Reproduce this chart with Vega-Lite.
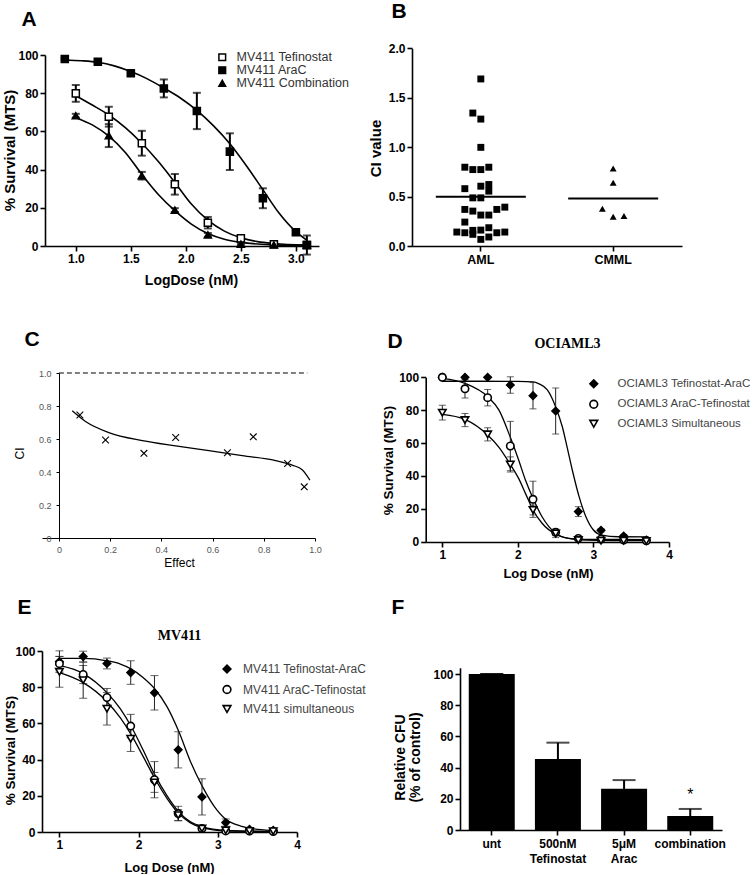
{
  "$schema": "https://vega.github.io/schema/vega-lite/v6.json",
  "background": "white",
  "padding": {"left": 2, "top": 0, "right": 0, "bottom": 0},
  "columns": 2,
  "align": "each",
  "bounds": "flush",
  "spacing": {"column": 93, "row": 109},
  "resolve": {"scale": {"shape": "independent", "fill": "independent", "stroke": "independent"}, "legend": {"shape": "independent", "fill": "independent", "stroke": "independent"}},
  "datasets": {
    "A_fit": [
      {"series": "MV411 AraC", "logdose": 0.9, "pct": 97.4}, {"series": "MV411 AraC", "logdose": 1.05, "pct": 97.0}, {"series": "MV411 AraC", "logdose": 1.2, "pct": 96.2}, {"series": "MV411 AraC", "logdose": 1.35, "pct": 94.3}, {"series": "MV411 AraC", "logdose": 1.5, "pct": 91.3}, {"series": "MV411 AraC", "logdose": 1.65, "pct": 87.5}, {"series": "MV411 AraC", "logdose": 1.8, "pct": 82.7}, {"series": "MV411 AraC", "logdose": 1.95, "pct": 77.5}, {"series": "MV411 AraC", "logdose": 2.1, "pct": 71.0}, {"series": "MV411 AraC", "logdose": 2.25, "pct": 63.0}, {"series": "MV411 AraC", "logdose": 2.4, "pct": 53.5}, {"series": "MV411 AraC", "logdose": 2.55, "pct": 42.0}, {"series": "MV411 AraC", "logdose": 2.7, "pct": 29.5}, {"series": "MV411 AraC", "logdose": 2.85, "pct": 17.0}, {"series": "MV411 AraC", "logdose": 3.0, "pct": 7.5}, {"series": "MV411 AraC", "logdose": 3.1, "pct": 3.0},
      {"series": "MV411 Tefinostat", "logdose": 1.0, "pct": 78.7}, {"series": "MV411 Tefinostat", "logdose": 1.15, "pct": 73.8}, {"series": "MV411 Tefinostat", "logdose": 1.3, "pct": 68.6}, {"series": "MV411 Tefinostat", "logdose": 1.45, "pct": 62.0}, {"series": "MV411 Tefinostat", "logdose": 1.6, "pct": 53.8}, {"series": "MV411 Tefinostat", "logdose": 1.75, "pct": 44.2}, {"series": "MV411 Tefinostat", "logdose": 1.9, "pct": 33.3}, {"series": "MV411 Tefinostat", "logdose": 2.05, "pct": 22.0}, {"series": "MV411 Tefinostat", "logdose": 2.2, "pct": 13.5}, {"series": "MV411 Tefinostat", "logdose": 2.35, "pct": 7.8}, {"series": "MV411 Tefinostat", "logdose": 2.5, "pct": 4.3}, {"series": "MV411 Tefinostat", "logdose": 2.65, "pct": 2.3}, {"series": "MV411 Tefinostat", "logdose": 2.8, "pct": 1.3}, {"series": "MV411 Tefinostat", "logdose": 3.1, "pct": 0.5},
      {"series": "MV411 Combination", "logdose": 1.0, "pct": 67.2}, {"series": "MV411 Combination", "logdose": 1.15, "pct": 63.4}, {"series": "MV411 Combination", "logdose": 1.3, "pct": 57.5}, {"series": "MV411 Combination", "logdose": 1.45, "pct": 49.0}, {"series": "MV411 Combination", "logdose": 1.6, "pct": 37.5}, {"series": "MV411 Combination", "logdose": 1.75, "pct": 27.0}, {"series": "MV411 Combination", "logdose": 1.9, "pct": 18.5}, {"series": "MV411 Combination", "logdose": 2.05, "pct": 11.5}, {"series": "MV411 Combination", "logdose": 2.2, "pct": 6.5}, {"series": "MV411 Combination", "logdose": 2.35, "pct": 3.5}, {"series": "MV411 Combination", "logdose": 2.5, "pct": 1.9}, {"series": "MV411 Combination", "logdose": 2.8, "pct": 0.6}, {"series": "MV411 Combination", "logdose": 3.1, "pct": 0.2}
    ],
    "A_pts": [
      {"series": "MV411 Tefinostat", "logdose": 1.0, "pct": 79.9, "err": 4.4}, {"series": "MV411 Tefinostat", "logdose": 1.3, "pct": 67.7, "err": 5.2}, {"series": "MV411 Tefinostat", "logdose": 1.6, "pct": 53.8, "err": 6.5}, {"series": "MV411 Tefinostat", "logdose": 1.9, "pct": 32.3, "err": 5.4}, {"series": "MV411 Tefinostat", "logdose": 2.2, "pct": 12.2, "err": 3.0}, {"series": "MV411 Tefinostat", "logdose": 2.5, "pct": 4.0, "err": 1.0}, {"series": "MV411 Tefinostat", "logdose": 2.8, "pct": 0.9, "err": 0.5}, {"series": "MV411 Tefinostat", "logdose": 3.1, "pct": 0.5, "err": 0.5},
      {"series": "MV411 AraC", "logdose": 0.9, "pct": 97.9, "err": 0.5}, {"series": "MV411 AraC", "logdose": 1.2, "pct": 96.5, "err": 0.5}, {"series": "MV411 AraC", "logdose": 1.5, "pct": 90.4, "err": 1.0}, {"series": "MV411 AraC", "logdose": 1.8, "pct": 82.5, "err": 4.7}, {"series": "MV411 AraC", "logdose": 2.1, "pct": 70.7, "err": 9.5}, {"series": "MV411 AraC", "logdose": 2.4, "pct": 49.4, "err": 9.6}, {"series": "MV411 AraC", "logdose": 2.7, "pct": 25.0, "err": 5.2}, {"series": "MV411 AraC", "logdose": 3.0, "pct": 7.2, "err": 1.0}, {"series": "MV411 AraC", "logdose": 3.1, "pct": 0.5, "err": 5.0},
      {"series": "MV411 Combination", "logdose": 1.0, "pct": 68.2, "err": 1.0}, {"series": "MV411 Combination", "logdose": 1.3, "pct": 57.8, "err": 6.0}, {"series": "MV411 Combination", "logdose": 1.6, "pct": 36.8, "err": 2.0}, {"series": "MV411 Combination", "logdose": 1.9, "pct": 18.8, "err": 1.0}, {"series": "MV411 Combination", "logdose": 2.2, "pct": 5.8, "err": 1.0}, {"series": "MV411 Combination", "logdose": 2.5, "pct": 1.0, "err": 0.5}, {"series": "MV411 Combination", "logdose": 2.8, "pct": 0.5, "err": 0.3}, {"series": "MV411 Combination", "logdose": 3.1, "pct": 0.3, "err": 0.3}
    ],
    "B": [
      {"group": "AML", "ci": 1.69, "col": 0}, {"group": "AML", "ci": 1.345, "col": -1}, {"group": "AML", "ci": 1.284, "col": 0}, {"group": "AML", "ci": 0.998, "col": 0},
      {"group": "AML", "ci": 0.797, "col": -2}, {"group": "AML", "ci": 0.773, "col": -1}, {"group": "AML", "ci": 0.773, "col": 0}, {"group": "AML", "ci": 0.797, "col": 1},
      {"group": "AML", "ci": 0.58, "col": -2}, {"group": "AML", "ci": 0.605, "col": 0}, {"group": "AML", "ci": 0.622, "col": 1}, {"group": "AML", "ci": 0.555, "col": 1},
      {"group": "AML", "ci": 0.487, "col": -1}, {"group": "AML", "ci": 0.487, "col": 0},
      {"group": "AML", "ci": 0.37, "col": -2}, {"group": "AML", "ci": 0.353, "col": -1}, {"group": "AML", "ci": 0.313, "col": 0}, {"group": "AML", "ci": 0.313, "col": 1}, {"group": "AML", "ci": 0.37, "col": 2}, {"group": "AML", "ci": 0.393, "col": 3},
      {"group": "AML", "ci": 0.242, "col": -2},
      {"group": "AML", "ci": 0.141, "col": -3}, {"group": "AML", "ci": 0.134, "col": -2}, {"group": "AML", "ci": 0.158, "col": -1}, {"group": "AML", "ci": 0.161, "col": 0}, {"group": "AML", "ci": 0.185, "col": 1}, {"group": "AML", "ci": 0.134, "col": 2}, {"group": "AML", "ci": 0.141, "col": 3},
      {"group": "AML", "ci": 0.118, "col": -1}, {"group": "AML", "ci": 0.067, "col": 0}, {"group": "AML", "ci": 0.091, "col": 1},
      {"group": "CMML", "ci": 0.785, "col": 0}, {"group": "CMML", "ci": 0.639, "col": 0}, {"group": "CMML", "ci": 0.377, "col": -1.35}, {"group": "CMML", "ci": 0.296, "col": 0}, {"group": "CMML", "ci": 0.303, "col": 1.35}
    ],
    "C_ref": [{"effect": 0, "effect_end": 0.97, "ci": 1.0}],
    "C_curve": [
      {"effect": 0.052, "ci": 0.771}, {"effect": 0.104, "ci": 0.706}, {"effect": 0.195, "ci": 0.639}, {"effect": 0.326, "ci": 0.59}, {"effect": 0.456, "ci": 0.558}, {"effect": 0.586, "ci": 0.529}, {"effect": 0.716, "ci": 0.499}, {"effect": 0.846, "ci": 0.469}, {"effect": 0.911, "ci": 0.442}, {"effect": 0.951, "ci": 0.412}, {"effect": 0.98, "ci": 0.351}
    ],
    "C_pts": [
      {"effect": 0.082, "ci": 0.746}, {"effect": 0.182, "ci": 0.594}, {"effect": 0.332, "ci": 0.513}, {"effect": 0.456, "ci": 0.609}, {"effect": 0.658, "ci": 0.517}, {"effect": 0.759, "ci": 0.613}, {"effect": 0.893, "ci": 0.452}, {"effect": 0.958, "ci": 0.31}
    ],
    "D_fit": [
      {"series": "OCIAML3 Tefinostat-AraC", "logdose": 1.0, "pct": 97.6}, {"series": "OCIAML3 Tefinostat-AraC", "logdose": 1.5, "pct": 97.6}, {"series": "OCIAML3 Tefinostat-AraC", "logdose": 2.0, "pct": 97.5}, {"series": "OCIAML3 Tefinostat-AraC", "logdose": 2.2, "pct": 97.2}, {"series": "OCIAML3 Tefinostat-AraC", "logdose": 2.28, "pct": 96.0}, {"series": "OCIAML3 Tefinostat-AraC", "logdose": 2.39, "pct": 92.3}, {"series": "OCIAML3 Tefinostat-AraC", "logdose": 2.5, "pct": 82.0}, {"series": "OCIAML3 Tefinostat-AraC", "logdose": 2.59, "pct": 69.6}, {"series": "OCIAML3 Tefinostat-AraC", "logdose": 2.65, "pct": 57.8}, {"series": "OCIAML3 Tefinostat-AraC", "logdose": 2.72, "pct": 43.6}, {"series": "OCIAML3 Tefinostat-AraC", "logdose": 2.81, "pct": 27.4}, {"series": "OCIAML3 Tefinostat-AraC", "logdose": 2.9, "pct": 15.2}, {"series": "OCIAML3 Tefinostat-AraC", "logdose": 3.0, "pct": 7.1}, {"series": "OCIAML3 Tefinostat-AraC", "logdose": 3.11, "pct": 4.0}, {"series": "OCIAML3 Tefinostat-AraC", "logdose": 3.33, "pct": 3.0}, {"series": "OCIAML3 Tefinostat-AraC", "logdose": 3.73, "pct": 2.9},
      {"series": "OCIAML3 AraC-Tefinostat", "logdose": 1.0, "pct": 99.4}, {"series": "OCIAML3 AraC-Tefinostat", "logdose": 1.3, "pct": 96.3}, {"series": "OCIAML3 AraC-Tefinostat", "logdose": 1.6, "pct": 88.2}, {"series": "OCIAML3 AraC-Tefinostat", "logdose": 1.75, "pct": 80.0}, {"series": "OCIAML3 AraC-Tefinostat", "logdose": 1.9, "pct": 63.5}, {"series": "OCIAML3 AraC-Tefinostat", "logdose": 2.01, "pct": 49.7}, {"series": "OCIAML3 AraC-Tefinostat", "logdose": 2.1, "pct": 37.5}, {"series": "OCIAML3 AraC-Tefinostat", "logdose": 2.2, "pct": 26.4}, {"series": "OCIAML3 AraC-Tefinostat", "logdose": 2.32, "pct": 15.2}, {"series": "OCIAML3 AraC-Tefinostat", "logdose": 2.5, "pct": 5.1}, {"series": "OCIAML3 AraC-Tefinostat", "logdose": 2.67, "pct": 2.0}, {"series": "OCIAML3 AraC-Tefinostat", "logdose": 2.9, "pct": 1.4}, {"series": "OCIAML3 AraC-Tefinostat", "logdose": 3.73, "pct": 1.3},
      {"series": "OCIAML3 Simultaneous", "logdose": 1.0, "pct": 77.5}, {"series": "OCIAML3 Simultaneous", "logdose": 1.3, "pct": 74.4}, {"series": "OCIAML3 Simultaneous", "logdose": 1.6, "pct": 64.9}, {"series": "OCIAML3 Simultaneous", "logdose": 1.75, "pct": 57.4}, {"series": "OCIAML3 Simultaneous", "logdose": 1.9, "pct": 47.0}, {"series": "OCIAML3 Simultaneous", "logdose": 2.01, "pct": 38.5}, {"series": "OCIAML3 Simultaneous", "logdose": 2.1, "pct": 29.4}, {"series": "OCIAML3 Simultaneous", "logdose": 2.2, "pct": 19.3}, {"series": "OCIAML3 Simultaneous", "logdose": 2.32, "pct": 11.2}, {"series": "OCIAML3 Simultaneous", "logdose": 2.5, "pct": 4.5}, {"series": "OCIAML3 Simultaneous", "logdose": 2.67, "pct": 2.0}, {"series": "OCIAML3 Simultaneous", "logdose": 2.9, "pct": 1.0}, {"series": "OCIAML3 Simultaneous", "logdose": 3.73, "pct": 0.6}
    ],
    "D_pts": [
      {"series": "OCIAML3 Tefinostat-AraC", "logdose": 1.0, "pct": 100, "err": 0}, {"series": "OCIAML3 Tefinostat-AraC", "logdose": 1.3, "pct": 100, "err": 0}, {"series": "OCIAML3 Tefinostat-AraC", "logdose": 1.6, "pct": 100, "err": 0}, {"series": "OCIAML3 Tefinostat-AraC", "logdose": 1.9, "pct": 95.3, "err": 5}, {"series": "OCIAML3 Tefinostat-AraC", "logdose": 2.2, "pct": 88.8, "err": 8}, {"series": "OCIAML3 Tefinostat-AraC", "logdose": 2.5, "pct": 79.5, "err": 14}, {"series": "OCIAML3 Tefinostat-AraC", "logdose": 2.8, "pct": 18.3, "err": 3}, {"series": "OCIAML3 Tefinostat-AraC", "logdose": 3.1, "pct": 6.9, "err": 1}, {"series": "OCIAML3 Tefinostat-AraC", "logdose": 3.4, "pct": 3.4, "err": 1}, {"series": "OCIAML3 Tefinostat-AraC", "logdose": 3.7, "pct": 1.0, "err": 0.5},
      {"series": "OCIAML3 AraC-Tefinostat", "logdose": 1.0, "pct": 100, "err": 0}, {"series": "OCIAML3 AraC-Tefinostat", "logdose": 1.3, "pct": 93, "err": 5.6}, {"series": "OCIAML3 AraC-Tefinostat", "logdose": 1.6, "pct": 87.6, "err": 5}, {"series": "OCIAML3 AraC-Tefinostat", "logdose": 1.9, "pct": 58.2, "err": 15}, {"series": "OCIAML3 AraC-Tefinostat", "logdose": 2.2, "pct": 25.8, "err": 11}, {"series": "OCIAML3 AraC-Tefinostat", "logdose": 2.5, "pct": 5.7, "err": 2}, {"series": "OCIAML3 AraC-Tefinostat", "logdose": 2.8, "pct": 2.0, "err": 0.5}, {"series": "OCIAML3 AraC-Tefinostat", "logdose": 3.1, "pct": 1.6, "err": 0.5}, {"series": "OCIAML3 AraC-Tefinostat", "logdose": 3.4, "pct": 1.0, "err": 0.5}, {"series": "OCIAML3 AraC-Tefinostat", "logdose": 3.7, "pct": 0.6, "err": 0.3},
      {"series": "OCIAML3 Simultaneous", "logdose": 1.0, "pct": 78.5, "err": 4.5}, {"series": "OCIAML3 Simultaneous", "logdose": 1.3, "pct": 74, "err": 4}, {"series": "OCIAML3 Simultaneous", "logdose": 1.6, "pct": 65.3, "err": 4}, {"series": "OCIAML3 Simultaneous", "logdose": 1.9, "pct": 47, "err": 4.6}, {"series": "OCIAML3 Simultaneous", "logdose": 2.2, "pct": 19.3, "err": 3}, {"series": "OCIAML3 Simultaneous", "logdose": 2.5, "pct": 5.0, "err": 2.5}, {"series": "OCIAML3 Simultaneous", "logdose": 2.8, "pct": 1.0, "err": 0.5}, {"series": "OCIAML3 Simultaneous", "logdose": 3.1, "pct": 0.6, "err": 0.3}, {"series": "OCIAML3 Simultaneous", "logdose": 3.4, "pct": 0.6, "err": 0.3}, {"series": "OCIAML3 Simultaneous", "logdose": 3.7, "pct": 0.4, "err": 0.3}
    ],
    "E_fit": [
      {"series": "MV411 Tefinostat-AraC", "logdose": 1.0, "pct": 95.9}, {"series": "MV411 Tefinostat-AraC", "logdose": 1.3, "pct": 95.9}, {"series": "MV411 Tefinostat-AraC", "logdose": 1.6, "pct": 94.6}, {"series": "MV411 Tefinostat-AraC", "logdose": 1.77, "pct": 92.8}, {"series": "MV411 Tefinostat-AraC", "logdose": 1.91, "pct": 90.0}, {"series": "MV411 Tefinostat-AraC", "logdose": 2.06, "pct": 85.2}, {"series": "MV411 Tefinostat-AraC", "logdose": 2.2, "pct": 79.3}, {"series": "MV411 Tefinostat-AraC", "logdose": 2.36, "pct": 69.1}, {"series": "MV411 Tefinostat-AraC", "logdose": 2.51, "pct": 55.2}, {"series": "MV411 Tefinostat-AraC", "logdose": 2.65, "pct": 39.4}, {"series": "MV411 Tefinostat-AraC", "logdose": 2.8, "pct": 25.6}, {"series": "MV411 Tefinostat-AraC", "logdose": 2.95, "pct": 14.4}, {"series": "MV411 Tefinostat-AraC", "logdose": 3.1, "pct": 7.0}, {"series": "MV411 Tefinostat-AraC", "logdose": 3.29, "pct": 3.3}, {"series": "MV411 Tefinostat-AraC", "logdose": 3.5, "pct": 1.5}, {"series": "MV411 Tefinostat-AraC", "logdose": 3.75, "pct": 0.9},
      {"series": "MV411 AraC-Tefinostat", "logdose": 1.0, "pct": 92.0}, {"series": "MV411 AraC-Tefinostat", "logdose": 1.3, "pct": 87.5}, {"series": "MV411 AraC-Tefinostat", "logdose": 1.6, "pct": 77.0}, {"series": "MV411 AraC-Tefinostat", "logdose": 1.77, "pct": 68.0}, {"series": "MV411 AraC-Tefinostat", "logdose": 1.91, "pct": 58.0}, {"series": "MV411 AraC-Tefinostat", "logdose": 2.06, "pct": 45.0}, {"series": "MV411 AraC-Tefinostat", "logdose": 2.2, "pct": 32.0}, {"series": "MV411 AraC-Tefinostat", "logdose": 2.36, "pct": 20.0}, {"series": "MV411 AraC-Tefinostat", "logdose": 2.51, "pct": 11.0}, {"series": "MV411 AraC-Tefinostat", "logdose": 2.65, "pct": 5.8}, {"series": "MV411 AraC-Tefinostat", "logdose": 2.8, "pct": 3.0}, {"series": "MV411 AraC-Tefinostat", "logdose": 3.1, "pct": 0.9}, {"series": "MV411 AraC-Tefinostat", "logdose": 3.75, "pct": 0.3},
      {"series": "MV411 simultaneous", "logdose": 1.0, "pct": 88.0}, {"series": "MV411 simultaneous", "logdose": 1.3, "pct": 82.5}, {"series": "MV411 simultaneous", "logdose": 1.6, "pct": 72.0}, {"series": "MV411 simultaneous", "logdose": 1.77, "pct": 63.0}, {"series": "MV411 simultaneous", "logdose": 1.91, "pct": 53.5}, {"series": "MV411 simultaneous", "logdose": 2.06, "pct": 41.5}, {"series": "MV411 simultaneous", "logdose": 2.2, "pct": 30.0}, {"series": "MV411 simultaneous", "logdose": 2.36, "pct": 18.5}, {"series": "MV411 simultaneous", "logdose": 2.51, "pct": 10.0}, {"series": "MV411 simultaneous", "logdose": 2.65, "pct": 5.2}, {"series": "MV411 simultaneous", "logdose": 2.8, "pct": 2.4}, {"series": "MV411 simultaneous", "logdose": 3.1, "pct": 0.6}, {"series": "MV411 simultaneous", "logdose": 3.75, "pct": 0.2}
    ],
    "E_pts": [
      {"series": "MV411 Tefinostat-AraC", "logdose": 1.0, "pct": 94.1, "err": 6}, {"series": "MV411 Tefinostat-AraC", "logdose": 1.3, "pct": 96.9, "err": 3}, {"series": "MV411 Tefinostat-AraC", "logdose": 1.6, "pct": 93.1, "err": 3}, {"series": "MV411 Tefinostat-AraC", "logdose": 1.9, "pct": 88.1, "err": 6.5}, {"series": "MV411 Tefinostat-AraC", "logdose": 2.2, "pct": 76.9, "err": 9.5}, {"series": "MV411 Tefinostat-AraC", "logdose": 2.5, "pct": 45.4, "err": 10}, {"series": "MV411 Tefinostat-AraC", "logdose": 2.8, "pct": 19.4, "err": 10}, {"series": "MV411 Tefinostat-AraC", "logdose": 3.1, "pct": 5.2, "err": 2}, {"series": "MV411 Tefinostat-AraC", "logdose": 3.4, "pct": 1.5, "err": 1}, {"series": "MV411 Tefinostat-AraC", "logdose": 3.7, "pct": 0.9, "err": 0.5},
      {"series": "MV411 AraC-Tefinostat", "logdose": 1.0, "pct": 93, "err": 4}, {"series": "MV411 AraC-Tefinostat", "logdose": 1.3, "pct": 87, "err": 5}, {"series": "MV411 AraC-Tefinostat", "logdose": 1.6, "pct": 74.3, "err": 5}, {"series": "MV411 AraC-Tefinostat", "logdose": 1.9, "pct": 58.5, "err": 6.5}, {"series": "MV411 AraC-Tefinostat", "logdose": 2.2, "pct": 28.9, "err": 10}, {"series": "MV411 AraC-Tefinostat", "logdose": 2.5, "pct": 10.2, "err": 4}, {"series": "MV411 AraC-Tefinostat", "logdose": 2.8, "pct": 1.9, "err": 1}, {"series": "MV411 AraC-Tefinostat", "logdose": 3.1, "pct": 0.6, "err": 0.5}, {"series": "MV411 AraC-Tefinostat", "logdose": 3.4, "pct": 0.5, "err": 0.3}, {"series": "MV411 AraC-Tefinostat", "logdose": 3.7, "pct": 0.3, "err": 0.3},
      {"series": "MV411 simultaneous", "logdose": 1.0, "pct": 88.5, "err": 8.5}, {"series": "MV411 simultaneous", "logdose": 1.3, "pct": 83.9, "err": 10}, {"series": "MV411 simultaneous", "logdose": 1.6, "pct": 68.1, "err": 9}, {"series": "MV411 simultaneous", "logdose": 1.9, "pct": 51.5, "err": 7}, {"series": "MV411 simultaneous", "logdose": 2.2, "pct": 27.4, "err": 5.5}, {"series": "MV411 simultaneous", "logdose": 2.5, "pct": 9.3, "err": 3}, {"series": "MV411 simultaneous", "logdose": 2.8, "pct": 1.9, "err": 1}, {"series": "MV411 simultaneous", "logdose": 3.1, "pct": 0.9, "err": 0.5}, {"series": "MV411 simultaneous", "logdose": 3.4, "pct": 0.6, "err": 0.3}, {"series": "MV411 simultaneous", "logdose": 3.7, "pct": 0.4, "err": 0.3}
    ],
    "F": [
      {"treatment": "unt", "cfu": 100, "err": 0, "sig": ""},
      {"treatment": "500nM Tefinostat", "cfu": 45.5, "err": 10.5, "sig": ""},
      {"treatment": "5μM Arac", "cfu": 26.5, "err": 5.5, "sig": ""},
      {"treatment": "combination", "cfu": 9, "err": 4.5, "sig": "*"}
    ]
  },
  "concat": [
    {
      "width": 277, "height": 216,
      "encoding": {
        "y": {"field": "pct", "type": "quantitative",
          "scale": {"domain": [0, 100], "range": [198, 7], "nice": false, "zero": false},
          "axis": {"values": [0, 20, 40, 60, 80, 100], "offset": -3, "title": "% Survival (MTS)", "titleFontSize": 15, "titleAngle": 270, "titleX": -36, "titleY": 102, "titleAlign": "center", "titleBaseline": "middle"}}
      },
      "layer": [
        {"data": {"name": "A_fit"},
          "mark": {"type": "line", "interpolate": "monotone", "color": "black", "strokeWidth": 1.6},
          "encoding": {
            "x": {"field": "logdose", "type": "quantitative", "scale": {"domain": [0.72, 3.21], "range": [3, 277], "nice": false, "zero": false},
              "axis": {"values": [1, 1.5, 2, 2.5, 3], "format": ".1f", "offset": -18, "title": "LogDose (nM)", "titleX": 149, "titleY": 34, "titleAlign": "center", "titleBaseline": "middle"}},
            "detail": {"field": "series", "type": "nominal"}}},
        {"data": {"name": "A_pts"},
          "mark": {"type": "errorbar", "ticks": true, "size": 8, "thickness": 2, "color": "black"},
          "encoding": {
            "x": {"field": "logdose", "type": "quantitative", "scale": {"domain": [0.72, 3.21], "range": [3, 277], "nice": false, "zero": false}, "axis": null},
            "yError": {"field": "err"}}},
        {"data": {"name": "A_pts"},
          "mark": {"type": "point", "filled": false, "strokeWidth": 1.5, "size": 50, "opacity": 1},
          "encoding": {
            "x": {"field": "logdose", "type": "quantitative", "scale": {"domain": [0.72, 3.21], "range": [3, 277], "nice": false, "zero": false},
              "axis": {"orient": "top", "domain": false, "ticks": false, "labels": false, "title": "A", "titleX": -21, "titleY": -23, "titleAngle": 0, "titleAlign": "left", "titleBaseline": "alphabetic", "titleFontSize": 21}},
            "shape": {"field": "series", "type": "nominal", "scale": {"domain": ["MV411 Tefinostat", "MV411 AraC", "MV411 Combination"], "range": ["square", "square", "triangle-up"]},
              "legend": {"orient": "none", "legendX": 174, "legendY": 3, "title": null, "padding": 0, "rowPadding": -1.5, "labelOffset": 8, "labelFontSize": 12.5, "labelFontWeight": "normal", "labelColor": "#333", "symbolStrokeWidth": 1.5, "symbolSize": 45}},
            "fill": {"field": "series", "type": "nominal", "scale": {"domain": ["MV411 Tefinostat", "MV411 AraC", "MV411 Combination"], "range": ["white", "black", "black"]},
              "legend": {"orient": "none", "legendX": 174, "legendY": 3, "title": null, "padding": 0, "rowPadding": -1.5, "labelOffset": 8, "labelFontSize": 12.5, "labelFontWeight": "normal", "labelColor": "#333", "symbolStrokeWidth": 1.5, "symbolSize": 45}},
            "stroke": {"field": "series", "type": "nominal", "scale": {"domain": ["MV411 Tefinostat", "MV411 AraC", "MV411 Combination"], "range": ["black", "black", "black"]},
              "legend": {"orient": "none", "legendX": 174, "legendY": 3, "title": null, "padding": 0, "rowPadding": -1.5, "labelOffset": 8, "labelFontSize": 12.5, "labelFontWeight": "normal", "labelColor": "#333", "symbolStrokeWidth": 1.5, "symbolSize": 45}}}}
      ],
      "resolve": {"axis": {"x": "independent"}}
    },
    {
      "width": 270, "height": 216,
      "data": {"name": "B"},
      "layer": [
        {"mark": {"type": "point", "filled": true, "color": "black", "size": 48, "opacity": 1},
          "encoding": {
            "x": {"field": "group", "type": "nominal", "sort": ["AML", "CMML"], "scale": {"type": "band", "paddingInner": 0, "paddingOuter": 0.02},
              "axis": {"offset": -18, "title": null, "labelAngle": 0, "labelFontSize": 12.5}},
            "xOffset": {"field": "col", "type": "quantitative", "scale": {"domain": [-8.275, 8.275], "nice": false, "zero": false}},
            "y": {"field": "ci", "type": "quantitative", "scale": {"domain": [0, 2], "range": [198, 0.3], "nice": false},
              "axis": {"values": [0, 0.5, 1, 1.5, 2], "format": ".1f", "title": "CI value", "titleFontSize": 15, "titleAngle": 270, "titleX": -37, "titleY": 100, "titleAlign": "center", "titleBaseline": "middle"}},
            "shape": {"field": "group", "type": "nominal", "scale": {"domain": ["AML", "CMML"], "range": ["square", "triangle-up"]}, "legend": null}}},
        {"mark": {"type": "tick", "size": 90, "thickness": 2, "color": "black"},
          "encoding": {
            "x": {"field": "group", "type": "nominal", "sort": ["AML", "CMML"], "scale": {"type": "band", "paddingInner": 0, "paddingOuter": 0.02},
              "axis": {"orient": "top", "domain": false, "ticks": false, "labels": false, "title": "B", "titleX": -21, "titleY": -31, "titleAngle": 0, "titleAlign": "left", "titleBaseline": "alphabetic", "titleFontSize": 21}},
            "y": {"aggregate": "mean", "field": "ci", "type": "quantitative", "scale": {"domain": [0, 2], "range": [198, 0.3], "nice": false},
              "axis": {"values": [0, 0.5, 1, 1.5, 2], "format": ".1f", "title": "CI value", "titleFontSize": 15, "titleAngle": 270, "titleX": -37, "titleY": 100, "titleAlign": "center", "titleBaseline": "middle"}}}}
      ],
      "resolve": {"axis": {"x": "independent"}}
    },
    {
      "width": 273, "height": 165,
      "encoding": {
        "y": {"field": "ci", "type": "quantitative", "scale": {"domain": [0, 1], "nice": false, "zero": false},
          "axis": {"values": [0, 0.2, 0.4, 0.6, 0.8, 1], "labelExpr": "datum.value === 0 ? '0' : format(datum.value, '.1f')", "offset": -17, "labelFontSize": 9, "labelFontWeight": "normal", "labelColor": "#555", "tickSize": 3, "tickWidth": 1, "domainWidth": 1, "labelPadding": 5, "title": "CI", "titleFontSize": 12, "titleFontWeight": "normal", "titleAngle": 270, "titleX": -40, "titleY": 80, "titleAlign": "center", "titleBaseline": "middle"}}
      },
      "layer": [
        {"data": {"name": "C_ref"},
          "mark": {"type": "rule", "strokeDash": [5, 3], "color": "black", "strokeWidth": 1},
          "encoding": {
            "x": {"field": "effect", "type": "quantitative", "scale": {"domain": [-0.066, 1], "nice": false, "zero": false}, "axis": null},
            "x2": {"field": "effect_end"}}},
        {"data": {"name": "C_curve"},
          "mark": {"type": "line", "interpolate": "monotone", "color": "black", "strokeWidth": 1.2},
          "encoding": {
            "x": {"field": "effect", "type": "quantitative", "scale": {"domain": [-0.066, 1], "nice": false, "zero": false},
              "axis": {"values": [0, 0.2, 0.4, 0.6, 0.8, 1], "labelExpr": "datum.value === 0 ? '0' : format(datum.value, '.1f')", "labelFontSize": 9, "labelFontWeight": "normal", "labelColor": "#555", "tickSize": 3, "tickWidth": 1, "domainWidth": 1, "labelPadding": 4, "title": "Effect", "titleFontSize": 12, "titleFontWeight": "normal", "titleX": 137, "titleY": 24, "titleAlign": "center", "titleBaseline": "middle"}}}},
        {"data": {"name": "C_pts"},
          "mark": {"type": "point", "shape": "M-1,-1L1,1M-1,1L1,-1", "filled": false, "color": "black", "strokeWidth": 1.1, "size": 45, "opacity": 1},
          "encoding": {
            "x": {"field": "effect", "type": "quantitative", "scale": {"domain": [-0.066, 1], "nice": false, "zero": false},
              "axis": {"orient": "top", "domain": false, "ticks": false, "labels": false, "title": "C", "titleX": -18, "titleY": -28, "titleAngle": 0, "titleAlign": "left", "titleBaseline": "alphabetic", "titleFontSize": 21}}}}
      ],
      "resolve": {"axis": {"x": "independent"}}
    },
    {
      "width": 257, "height": 169,
      "encoding": {
        "y": {"field": "pct", "type": "quantitative",
          "scale": {"domain": [0, 100], "range": [168.7, 4.3], "nice": false, "zero": false},
          "axis": {"values": [0, 20, 40, 60, 80, 100], "offset": -13.7, "title": "% Survival (MTS)", "titleFontSize": 13.5, "titleAngle": 270, "titleX": -37, "titleY": 87, "titleAlign": "center", "titleBaseline": "middle"}}
      },
      "layer": [
        {"data": {"name": "D_fit"},
          "mark": {"type": "line", "interpolate": "monotone", "color": "black", "strokeWidth": 1.3},
          "encoding": {
            "x": {"field": "logdose", "type": "quantitative", "scale": {"domain": [0.78, 4], "range": [13.7, 257], "nice": false, "zero": false},
              "axis": {"values": [1, 2, 3, 4], "title": "Log Dose (nM)", "titleFontSize": 13, "titleX": 136, "titleY": 31, "titleAlign": "center", "titleBaseline": "middle"}},
            "detail": {"field": "series", "type": "nominal"}}},
        {"data": {"name": "D_pts"},
          "mark": {"type": "errorbar", "ticks": true, "size": 7, "thickness": 1, "color": "#222"},
          "encoding": {
            "x": {"field": "logdose", "type": "quantitative", "scale": {"domain": [0.78, 4], "range": [13.7, 257], "nice": false, "zero": false},
              "axis": {"orient": "top", "domain": false, "ticks": false, "labels": false, "title": "OCIAML3", "titleFont": "Liberation Serif", "titleFontSize": 14, "titleX": 155, "titleY": -30, "titleAngle": 0, "titleAlign": "center", "titleBaseline": "middle"}},
            "yError": {"field": "err"}}},
        {"data": {"name": "D_pts"},
          "mark": {"type": "point", "filled": false, "strokeWidth": 1.6, "size": 55, "opacity": 1},
          "encoding": {
            "x": {"field": "logdose", "type": "quantitative", "scale": {"domain": [0.78, 4], "range": [13.7, 257], "nice": false, "zero": false},
              "axis": {"orient": "top", "domain": false, "ticks": false, "labels": false, "title": "D", "titleX": -25, "titleY": -26, "titleAngle": 0, "titleAlign": "left", "titleBaseline": "alphabetic", "titleFontSize": 21}},
            "shape": {"field": "series", "type": "nominal", "scale": {"domain": ["OCIAML3 Tefinostat-AraC", "OCIAML3 AraC-Tefinostat", "OCIAML3 Simultaneous"], "range": ["diamond", "circle", "triangle-down"]},
              "legend": {"orient": "none", "legendX": 176, "legendY": 5, "title": null, "padding": 0, "rowPadding": 5.5, "labelOffset": 18, "labelFontSize": 11.5, "labelFontWeight": "normal", "labelColor": "#444", "symbolStrokeWidth": 1.6, "symbolSize": 60}},
            "fill": {"field": "series", "type": "nominal", "scale": {"domain": ["OCIAML3 Tefinostat-AraC", "OCIAML3 AraC-Tefinostat", "OCIAML3 Simultaneous"], "range": ["black", "white", "white"]},
              "legend": {"orient": "none", "legendX": 176, "legendY": 5, "title": null, "padding": 0, "rowPadding": 5.5, "labelOffset": 18, "labelFontSize": 11.5, "labelFontWeight": "normal", "labelColor": "#444", "symbolStrokeWidth": 1.6, "symbolSize": 60}},
            "stroke": {"field": "series", "type": "nominal", "scale": {"domain": ["OCIAML3 Tefinostat-AraC", "OCIAML3 AraC-Tefinostat", "OCIAML3 Simultaneous"], "range": ["black", "black", "black"]},
              "legend": {"orient": "none", "legendX": 176, "legendY": 5, "title": null, "padding": 0, "rowPadding": 5.5, "labelOffset": 18, "labelFontSize": 11.5, "labelFontWeight": "normal", "labelColor": "#444", "symbolStrokeWidth": 1.6, "symbolSize": 60}}}}
      ],
      "resolve": {"axis": {"x": "independent"}}
    },
    {
      "width": 255, "height": 181,
      "encoding": {
        "y": {"field": "pct", "type": "quantitative",
          "scale": {"domain": [0, 100], "nice": false, "zero": false},
          "axis": {"values": [0, 20, 40, 60, 80, 100], "title": "% Survival (MTS)", "titleFontSize": 13.5, "titleAngle": 270, "titleX": -32, "titleY": 99, "titleAlign": "center", "titleBaseline": "middle"}}
      },
      "layer": [
        {"data": {"name": "E_fit"},
          "mark": {"type": "line", "interpolate": "monotone", "color": "black", "strokeWidth": 1.3},
          "encoding": {
            "x": {"field": "logdose", "type": "quantitative", "scale": {"domain": [0.78, 4], "nice": false, "zero": false},
              "axis": {"values": [1, 2, 3, 4], "title": "Log Dose (nM)", "titleFontSize": 13, "titleX": 127, "titleY": 35, "titleAlign": "center", "titleBaseline": "middle"}},
            "detail": {"field": "series", "type": "nominal"}}},
        {"data": {"name": "E_pts"},
          "mark": {"type": "errorbar", "ticks": true, "size": 8, "thickness": 1, "color": "#222"},
          "encoding": {
            "x": {"field": "logdose", "type": "quantitative", "scale": {"domain": [0.78, 4], "nice": false, "zero": false},
              "axis": {"orient": "top", "domain": false, "ticks": false, "labels": false, "title": "MV411", "titleFont": "Liberation Serif", "titleFontSize": 14, "titleX": 137, "titleY": -16, "titleAngle": 0, "titleAlign": "center", "titleBaseline": "middle"}},
            "yError": {"field": "err"}}},
        {"data": {"name": "E_pts"},
          "mark": {"type": "point", "filled": false, "strokeWidth": 1.6, "size": 55, "opacity": 1},
          "encoding": {
            "x": {"field": "logdose", "type": "quantitative", "scale": {"domain": [0.78, 4], "nice": false, "zero": false},
              "axis": {"orient": "top", "domain": false, "ticks": false, "labels": false, "title": "E", "titleX": -25, "titleY": -38, "titleAngle": 0, "titleAlign": "left", "titleBaseline": "alphabetic", "titleFontSize": 21}},
            "shape": {"field": "series", "type": "nominal", "scale": {"domain": ["MV411 Tefinostat-AraC", "MV411 AraC-Tefinostat", "MV411 simultaneous"], "range": ["diamond", "circle", "triangle-down"]},
              "legend": {"orient": "none", "legendX": 179, "legendY": 12, "title": null, "padding": 0, "rowPadding": 4.5, "labelOffset": 10, "labelFontSize": 12, "labelFontWeight": "normal", "labelColor": "#444", "symbolStrokeWidth": 1.6, "symbolSize": 60}},
            "fill": {"field": "series", "type": "nominal", "scale": {"domain": ["MV411 Tefinostat-AraC", "MV411 AraC-Tefinostat", "MV411 simultaneous"], "range": ["black", "white", "white"]},
              "legend": {"orient": "none", "legendX": 179, "legendY": 12, "title": null, "padding": 0, "rowPadding": 4.5, "labelOffset": 10, "labelFontSize": 12, "labelFontWeight": "normal", "labelColor": "#444", "symbolStrokeWidth": 1.6, "symbolSize": 60}},
            "stroke": {"field": "series", "type": "nominal", "scale": {"domain": ["MV411 Tefinostat-AraC", "MV411 AraC-Tefinostat", "MV411 simultaneous"], "range": ["black", "black", "black"]},
              "legend": {"orient": "none", "legendX": 179, "legendY": 12, "title": null, "padding": 0, "rowPadding": 4.5, "labelOffset": 10, "labelFontSize": 12, "labelFontWeight": "normal", "labelColor": "#444", "symbolStrokeWidth": 1.6, "symbolSize": 60}}}}
      ],
      "resolve": {"axis": {"x": "independent"}}
    },
    {
      "width": 310, "height": 179,
      "data": {"name": "F"},
      "encoding": {
        "y": {"field": "cfu", "type": "quantitative",
          "scale": {"domain": [0, 104], "range": [179, 16.8], "nice": false, "zero": false},
          "axis": {"values": [0, 20, 40, 60, 80, 100], "offset": -48, "title": ["Relative CFU", "(% of control)"], "titleFontSize": 14, "titleLineHeight": 15, "titleAngle": 270, "titleX": -59.5, "titleY": 106, "titleAlign": "center", "titleBaseline": "middle"}}
      },
      "layer": [
        {"mark": {"type": "bar", "color": "black", "size": 46},
          "encoding": {
            "x": {"field": "treatment", "type": "nominal", "sort": ["unt", "500nM Tefinostat", "5μM Arac", "combination"], "scale": {"type": "band", "range": [48, 310], "paddingInner": 0.3, "paddingOuter": 0.13},
              "axis": {"title": null, "labelAngle": 0, "labelExpr": "split(datum.label, ' ')", "labelLineHeight": 15, "labelPadding": 3}}}},
        {"mark": {"type": "errorbar", "ticks": true, "size": 23, "thickness": 2, "color": "black"},
          "encoding": {
            "x": {"field": "treatment", "type": "nominal", "sort": ["unt", "500nM Tefinostat", "5μM Arac", "combination"], "scale": {"type": "band", "range": [48, 310], "paddingInner": 0.3, "paddingOuter": 0.13}, "axis": null},
            "yError": {"field": "err"}}},
        {"mark": {"type": "text", "dy": -21, "fontSize": 16, "baseline": "middle", "color": "black"},
          "encoding": {
            "x": {"field": "treatment", "type": "nominal", "sort": ["unt", "500nM Tefinostat", "5μM Arac", "combination"], "scale": {"type": "band", "range": [48, 310], "paddingInner": 0.3, "paddingOuter": 0.13},
              "axis": {"orient": "top", "domain": false, "ticks": false, "labels": false, "title": "F", "titleX": -21, "titleY": -38, "titleAngle": 0, "titleAlign": "left", "titleBaseline": "alphabetic", "titleFontSize": 21}},
            "text": {"field": "sig", "type": "nominal"}}}
      ],
      "resolve": {"axis": {"x": "independent"}}
    }
  ],
  "config": {
    "view": {"stroke": null},
    "font": "Liberation Sans",
    "axis": {"domainColor": "black", "domainWidth": 1.6, "tickColor": "black", "tickWidth": 1.6, "tickSize": 5, "labelFont": "Liberation Sans", "labelFontSize": 12, "labelFontWeight": "bold", "labelColor": "black", "labelPadding": 2, "labelFlush": false, "labelOverlap": false, "titleFont": "Liberation Sans", "titleFontSize": 14, "titleFontWeight": "bold", "titleColor": "black", "grid": false},
    "legend": {"labelFont": "Liberation Sans"}
  }
}
